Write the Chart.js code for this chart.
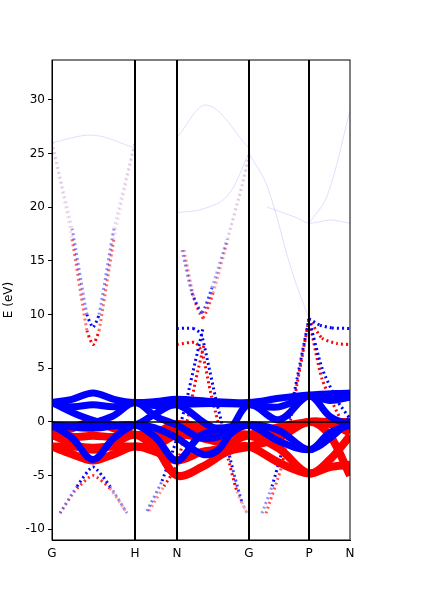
<!DOCTYPE html>
<html>
<head>
<meta charset="utf-8">
<script src="https://cdn.jsdelivr.net/npm/chart.js@4/dist/chart.umd.min.js"></script>
<style>
  body { margin: 0; background: #fff; }
  #wrap { width: 428px; height: 599px; }
</style>
</head>
<body>
<div id="wrap"><canvas id="bandChart"></canvas></div>
<script>
// high-symmetry points (path length units) and their labels
var kTicks = [0, 83, 125, 197, 257, 298];
var kLabels = ["G", "H", "N", "G", "P", "N"];
var eTicks = [-10, -5, 0, 5, 10, 15, 20, 25, 30];

// spin up (blue) d bands
var up1 = [[0,1.8],[20,2.1],[41,2.7],[62,2.1],[83,1.8],[104,1.9],[125,2.1],[161,1.9],[197,1.8],[227,2.2],[257,2.5],[298,2.7]];
var up2 = [[0,1.8],[20,1.4],[41,1.6],[62,1.4],[83,1.8],[104,1.5],[125,1.6],[161,1.7],[197,1.6],[227,1.4],[257,2.4],[278,2.0],[298,2.3]];
var up3 = [[0,1.8],[30,0.5],[60,-0.3],[83,-0.3],[104,0.8],[125,1.6],[161,-0.5],[197,-0.3],[227,-1.8],[257,-2.6],[278,-1.5],[298,0.2]];
var up4 = [[0,-0.3],[30,-0.3],[60,0.5],[83,1.8],[104,0.5],[125,-0.3],[150,-1.5],[175,-1.0],[197,1.6],[227,0.2],[257,2.4],[278,0.5],[298,-0.3]];
var up5 = [[0,-0.3],[20,-1.5],[41,-3.5],[62,-1.5],[83,-0.3],[104,-0.6],[125,-1.5],[150,-3.0],[165,-2.7],[180,-1.0],[197,-0.3],[227,-0.8],[257,-2.6],[278,-1.0],[298,-0.3]];
var up6 = [[0,-0.3],[41,-0.6],[83,-0.3],[104,-1.5],[125,-3.6],[150,-1.2],[197,-0.3]];
// spin up s-like bands (dotted)
var upS1 = [[8,-8.5],[25,-6],[41,-4.2],[58,-6],[75,-8.5]];
var upS2 = [[0,26],[20,18],[35,10],[41,8.8],[47,10],[62,18],[83,26]];
var upS3 = [[95,-8.3],[110,-5.5],[125,-1.5],[135,2.2],[143,5.5],[151,8.7]];
var upS4 = [[125,8.7],[141,8.7],[149,8.2],[156,5.5],[163,2.5],[172,-1],[181,-4.5],[190,-7.5],[195,-8.5]];
var upS5 = [[210,-8.5],[220,-6],[232,-2],[245,4],[257,9.6]];
var upS6 = [[257,9.6],[268,9],[280,8.75],[298,8.7]];
var upS7 = [[257,9.6],[270,5],[285,2],[298,0.3]];
var upS8 = [[130,16],[140,12],[150,10.2],[160,12.5],[175,17],[190,22],[197,25]];
// spin down (red) d bands
var dn1 = [[0,-1.2],[20,-0.6],[41,0],[62,-0.6],[83,-1.2],[104,-1.0],[125,-0.2],[161,-0.8],[197,-1.2],[227,-0.5],[257,0],[278,0],[298,0]];
var dn2 = [[0,-1.2],[20,-1.4],[41,-1.3],[62,-1.4],[83,-1.2],[104,-1.5],[125,-0.8],[161,-0.9],[197,-1.2],[227,-1.0],[257,0],[278,-0.2],[298,-1.0]];
var dn3 = [[0,-2.3],[20,-2.3],[41,-2.4],[62,-2.3],[83,-2.3],[104,-2.2],[125,-1.2],[150,-1.5],[175,-2.0],[197,-1.3],[227,-2.5],[257,-4.8],[278,-3.5],[298,-1.3]];
var dn4 = [[0,-2.3],[20,-3],[41,-3.6],[62,-3],[83,-2.3],[104,-2.8],[125,-3.6],[150,-2.8],[175,-2.5],[197,-2.3],[227,-3.8],[257,-4.8],[278,-4.2],[298,-4.0]];
var dn5 = [[0,-1.2],[20,-2.0],[41,-2.6],[62,-2.0],[83,-1.2],[104,-2.5],[125,-5.0],[150,-4.2],[175,-2.8],[197,-2.3],[227,-1.5],[257,0],[278,-1.3],[298,-5.0]];
// spin down s-like bands
var dnS1 = [[8,-8.5],[25,-6.2],[41,-5],[58,-6.2],[75,-8.5]];
var dnS2 = [[0,26],[20,17],[35,8.5],[41,7.2],[47,8.5],[62,17],[83,26]];
var dnS3 = [[97,-8.3],[112,-6],[125,-4],[135,0],[144,4],[152,7.2]];
var dnS4 = [[125,7.2],[143,7.4],[150,6.5],[158,3],[166,0],[175,-3],[185,-6.5],[195,-8.5]];
var dnS5 = [[214,-8.5],[230,-4],[245,3.5],[257,9.6]];
var dnS6 = [[257,9.6],[270,7.8],[285,7.3],[298,7.2]];
var dnS7 = [[257,9.6],[270,4],[290,0],[298,-1]];
var dnS8 = [[132,16],[142,11.5],[151,9.7],[161,12],[176,17],[197,24.5]];
// faint high bands
var faint1 = [[0,26],[41,26.7],[83,25.5]];
var faint2 = [[125,26.5],[155,29.5],[197,25.5]];
var faint3 = [[125,19.5],[150,19.8],[175,21],[197,25]];
var faint4 = [[197,25],[215,22],[240,14],[257,9.6]];
var faint5 = [[215,20],[245,19],[257,18.5],[278,18.8],[298,18.5]];
var faint6 = [[257,18.5],[275,21],[298,29]];

function fade(e) {
    if (e > 8) return Math.max(0.12, 1 - (e - 9) / 9);
    if (e < -5) return Math.max(0.15, 1 - (-5 - e) / 4);
    return 1;
}

function band(pts, rgb, width, dash) {
    return {
        data: pts.map(([x, y]) => ({ x: x, y: y })),
        showLine: true,
        borderColor: "rgb(" + rgb + ")",
        borderWidth: width,
        borderDash: dash || [],
        segment: dash ? {
            borderColor: (c) => "rgba(" + rgb + "," + fade((c.p0.parsed.y + c.p1.parsed.y) / 2) + ")"
        } : undefined,
        pointRadius: 0,
        tension: dash ? 0.2 : 0.35,
        order: 5
    };
}

var datasets = [];
var BLUE = "0,0,255", RED = "255,0,0";
[up1, up2, up3, up4, up5, up6].forEach(b => datasets.push(band(b, BLUE, 7)));
[dn1, dn2, dn3, dn4, dn5].forEach(b => datasets.push(band(b, RED, 8)));
[upS1, upS2, upS3, upS4, upS5, upS6, upS7, upS8].forEach(b => datasets.push(band(b, BLUE, 3, [2, 3])));
[dnS1, dnS2, dnS3, dnS4, dnS5, dnS6, dnS7, dnS8].forEach(b => datasets.push(band(b, RED, 3, [2, 3])));
[faint1, faint2, faint3, faint4, faint5, faint6].forEach(b => {
    var d = band(b, BLUE, 1);
    d.borderColor = "rgba(0,0,255,0.13)";
    datasets.push(d);
});
// fermi level and high-symmetry verticals
datasets.push({ data: [{ x: 0, y: 0 }, { x: 298, y: 0 }], showLine: true, borderColor: "#000", borderWidth: 1.5, pointRadius: 0, order: 0 });
kTicks.slice(1, 5).forEach(k => {
    datasets.push({ data: [{ x: k, y: -11 }, { x: k, y: 33.7 }], showLine: true, borderColor: "#000", borderWidth: 2, pointRadius: 0, order: 0 });
});

Chart.defaults.font.family = "DejaVu Sans";
Chart.defaults.color = "#000";

new Chart(document.getElementById("bandChart"), {
    type: "scatter",
    data: { datasets: datasets },
    options: {
        responsive: true,
        maintainAspectRatio: false,
        animation: false,
        layout: { padding: { top: 60, right: 78, left: 0, bottom: 0 } },
        plugins: { legend: { display: false }, tooltip: { enabled: false } },
        scales: {
            x: {
                type: "linear", min: 0, max: 298,
                afterBuildTicks: (s) => { s.ticks = kTicks.map(v => ({ value: v })); },
                afterFit: (s) => { s.height = 59; },
                ticks: { font: { size: 12 }, autoSkip: false, maxRotation: 0, callback: (v) => kLabels[kTicks.indexOf(v)] },
                grid: { display: false, drawOnChartArea: false, drawTicks: true, tickLength: 4, color: "#000" },
                border: { color: "#000", width: 1 }
            },
            y: {
                min: -11, max: 33.7,
                afterBuildTicks: (s) => { s.ticks = eTicks.map(v => ({ value: v })); },
                afterFit: (s) => { s.width = 52; },
                ticks: { font: { size: 12 } },
                title: { display: true, text: "E (eV)", font: { size: 12 }, padding: 2 },
                grid: { drawOnChartArea: false, drawTicks: true, tickLength: 4, color: "#000" },
                border: { color: "#000", width: 1 }
            }
        }
    },
    plugins: [{
        id: "frame",
        afterDraw: (c) => {
            var a = c.chartArea, ctx = c.ctx;
            ctx.save();
            ctx.strokeStyle = "#000"; ctx.lineWidth = 1;
            ctx.strokeRect(a.left, a.top, a.right - a.left, a.bottom - a.top);
            ctx.restore();
        }
    }]
});
</script>
</body>
</html>
